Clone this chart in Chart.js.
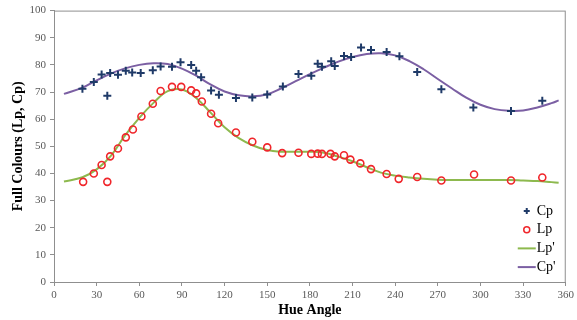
<!DOCTYPE html>
<html>
<head>
<meta charset="utf-8">
<script src="https://cdn.jsdelivr.net/npm/chart.js@4/dist/chart.umd.min.js"></script>
<style>
  html, body { margin: 0; padding: 0; background: #fff; }
  #wrap { width: 577px; height: 320px; position: relative; }
</style>
</head>
<body>
<div id="wrap"><canvas id="chart"></canvas></div>
<script>
// measured points, hue angle vs value
const cpHue = [20, 28, 33.5, 37.5, 39.5, 45, 50.5, 55, 61, 69.5, 75, 83, 89, 96.5, 100, 103.5, 110.5, 116, 128, 139.5, 150, 161, 172, 181, 185.5, 188.5, 195, 197.5, 204, 209, 216, 223, 234, 243, 255.5, 272.5, 295, 321.5, 343.5];
const cpVal = [71.2, 73.7, 76.5, 68.6, 77, 76.4, 77.8, 77.2, 77, 78, 79.4, 79.3, 81, 80, 77.8, 75.4, 70.6, 69, 67.8, 68, 69.1, 72, 76.6, 76, 80.4, 79.3, 81.3, 79.6, 83.3, 82.9, 86.4, 85.5, 84.7, 83.2, 77.4, 71, 64.3, 63, 66.8];

const lpHue = [20.5, 28, 33.5, 37.5, 39.5, 45, 50.5, 55.5, 61.5, 69.5, 75, 83, 89.5, 96.5, 100, 104, 110.5, 115.5, 128, 139.5, 150, 160.5, 172, 181, 185.5, 188.5, 194.5, 197.5, 204, 208.5, 215.5, 223, 234, 242.5, 255.5, 272.5, 295.5, 321.5, 343.5];
const lpVal = [36.9, 40, 43.1, 36.9, 46.3, 49.2, 53.3, 56.2, 61, 65.7, 70.4, 71.9, 71.9, 70.6, 69.5, 66.5, 62, 58.5, 55.1, 51.7, 49.6, 47.5, 47.6, 47.2, 47.3, 47.2, 47.2, 46.3, 46.7, 45.1, 43.7, 41.6, 39.8, 38, 38.7, 37.4, 39.6, 37.4, 38.5];

// fitted curves
const fitHue = [7, 20, 30, 40, 50, 60, 70, 80, 90, 100, 110, 120, 130, 140, 150, 160, 170, 180, 190, 200, 210, 220, 230, 240, 250, 260, 270, 280, 290, 300, 310, 320, 330, 340, 350, 355];
const lpFit = [37, 38.6, 41.5, 46.5, 54, 60.5, 66, 70.3, 70.9, 67.8, 62.5, 57, 53, 50.3, 48.6, 48, 48, 48, 47.6, 46.2, 44.5, 42.3, 40.3, 39.2, 38.5, 38, 37.7, 37.6, 37.6, 37.6, 37.6, 37.6, 37.4, 37.2, 36.8, 36.6];
const cpFit = [69.3, 71.6, 74.3, 76.8, 78.7, 80, 80.6, 80.3, 78.6, 76, 72.8, 70.2, 68.8, 68.4, 69.2, 71.4, 74, 76.6, 79, 81.2, 82.9, 84, 84.3, 83.5, 81.4, 78.4, 74.8, 71.3, 67.9, 65.3, 63.7, 63.1, 63.2, 64.3, 65.9, 66.9];

const seriesNames = ['Cp', 'Lp', "Lp'", "Cp'"];

const pts = (xs, ys) => xs.map((x, i) => ({ x: x, y: ys[i] }));

const AXIS_GREY = '#8f8f8f';
const SERIF = "'Liberation Serif', 'DejaVu Serif', serif";

// legend drawn inside plot, lower right
const insideLegend = {
  id: 'insideLegend',
  afterDraw(chart) {
    const ctx = chart.ctx;
    const area = chart.chartArea;
    const xText = area.right - 30;
    const xMark = xText - 9;
    let y = area.bottom - 71;
    ctx.save();
    ctx.font = '14px ' + SERIF;
    ctx.textBaseline = 'middle';
    ctx.fillStyle = '#000';
    chart.data.datasets.forEach(ds => {
      ctx.strokeStyle = ds.borderColor;
      if (ds.showLine) {
        ctx.lineWidth = 2;
        ctx.beginPath();
        ctx.moveTo(xMark - 9, y);
        ctx.lineTo(xText, y);
        ctx.stroke();
      } else if (ds.pointStyle === 'cross') {
        ctx.lineWidth = 2;
        ctx.beginPath();
        ctx.moveTo(xMark - 3, y); ctx.lineTo(xMark + 3, y);
        ctx.moveTo(xMark, y - 3); ctx.lineTo(xMark, y + 3);
        ctx.stroke();
      } else {
        ctx.lineWidth = 1.5;
        ctx.beginPath();
        ctx.arc(xMark, y, 3, 0, Math.PI * 2);
        ctx.stroke();
      }
      ctx.fillText(ds.label, xText + 1, y);
      y += 18.7;
    });
    ctx.restore();
  }
};

// grey frame on top and right of plot area
const plotFrame = {
  id: 'plotFrame',
  beforeDatasetsDraw(chart) {
    const a = chart.chartArea;
    const ctx = chart.ctx;
    ctx.save();
    ctx.strokeStyle = AXIS_GREY;
    ctx.lineWidth = 1;
    ctx.strokeRect(a.left + 0.5, a.top + 0.5, a.right - a.left - 1, a.bottom - a.top);
    ctx.restore();
  }
};

new Chart(document.getElementById('chart'), {
  type: 'scatter',
  data: {
    datasets: [
      {
        label: seriesNames[0],
        data: pts(cpHue, cpVal),
        pointStyle: 'cross',
        pointRadius: 4,
        pointBorderWidth: 2,
        borderColor: '#1f3a68',
        backgroundColor: '#1f3a68',
        showLine: false
      },
      {
        label: seriesNames[1],
        data: pts(lpHue, lpVal),
        pointStyle: 'circle',
        pointRadius: 3.5,
        pointBorderWidth: 1.6,
        borderColor: '#f0262b',
        backgroundColor: 'rgba(255,255,255,0)',
        showLine: false
      },
      {
        label: seriesNames[2],
        data: pts(fitHue, lpFit),
        showLine: true,
        borderColor: '#8db94e',
        borderWidth: 2,
        pointRadius: 0,
        tension: 0.4
      },
      {
        label: seriesNames[3],
        data: pts(fitHue, cpFit),
        showLine: true,
        borderColor: '#7b5fa3',
        borderWidth: 2,
        pointRadius: 0,
        tension: 0.4
      }
    ]
  },
  options: {
    responsive: true,
    maintainAspectRatio: false,
    animation: false,
    layout: { padding: { top: 6, right: 11, left: 0, bottom: 0 } },
    plugins: {
      legend: { display: false },
      tooltip: { enabled: false }
    },
    scales: {
      x: {
        type: 'linear',
        min: 0,
        max: 360,
        afterFit: s => { s.height = 38; },
        ticks: { stepSize: 30, color: '#595959', font: { family: SERIF, size: 11 }, padding: 3 },
        grid: { drawOnChartArea: false, drawTicks: true, tickLength: 4, color: AXIS_GREY },
        border: { color: AXIS_GREY },
        title: { display: true, text: 'Hue Angle', color: '#000', font: { family: SERIF, size: 14, weight: 'bold' }, padding: { top: 0, bottom: 1 } }
      },
      y: {
        min: 0,
        max: 100,
        afterFit: s => { s.width = 54; },
        ticks: { stepSize: 10, color: '#595959', font: { family: SERIF, size: 11 }, padding: 4 },
        grid: { drawOnChartArea: false, drawTicks: true, tickLength: 4, color: AXIS_GREY },
        border: { color: AXIS_GREY },
        title: { display: true, text: 'Full Colours (Lp, Cp)', color: '#000', font: { family: SERIF, size: 14, weight: 'bold' }, padding: { top: 10, bottom: 0 } }
      }
    }
  },
  plugins: [plotFrame, insideLegend]
});
</script>
</body>
</html>
